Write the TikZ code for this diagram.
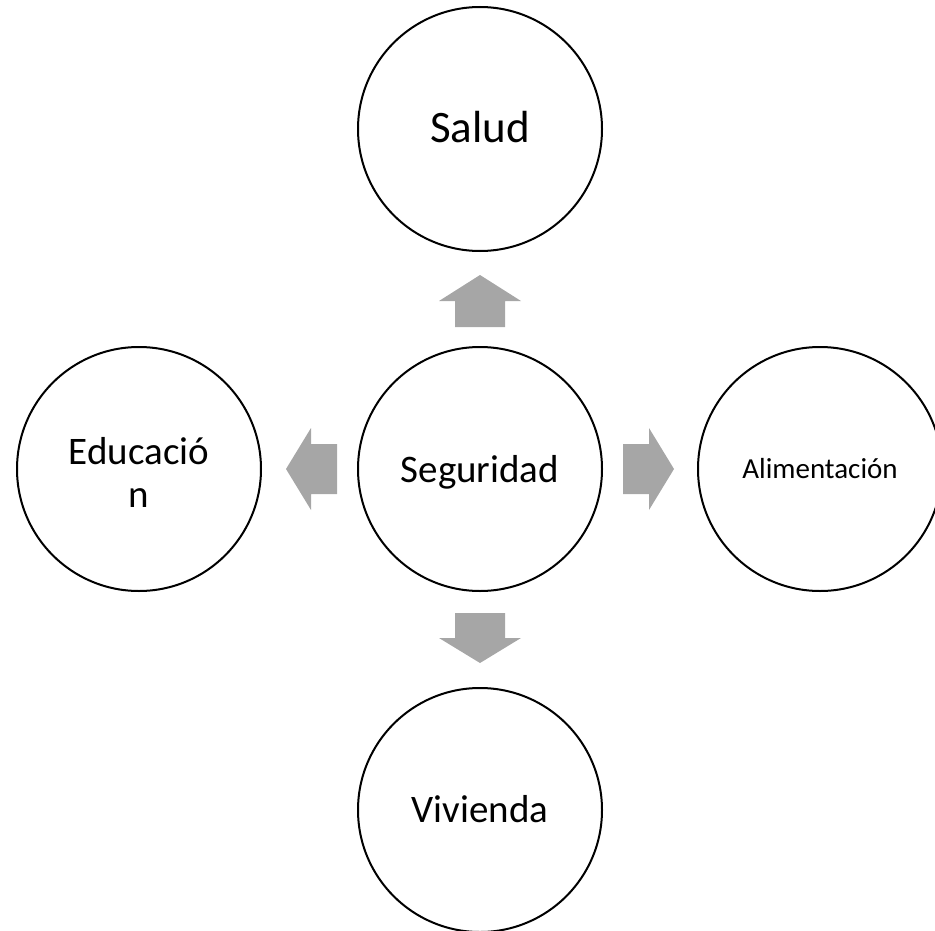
\documentclass[tikz,border=0pt]{standalone}
\usepackage{fontspec}
\setmainfont{Carlito}
\definecolor{arrowgray}{HTML}{A6A6A6}
\begin{document}
\begin{tikzpicture}[x=1pt,y=-1pt,
  circ/.style={circle, draw=black, line width=2pt, minimum size=244pt, inner sep=0pt},
  blk/.style={fill=arrowgray, draw=none},
  lbl/.style={anchor=base, inner sep=0pt, font=\fontsize{#1pt}{#1pt}\selectfont}]
\useasboundingbox (0,0) rectangle (935,931);
% circles
\node[circ] (salud) at (480,129) {};
\node[circ] (seg) at (480,469) {};
\node[circ] (edu) at (139,469) {};
\node[circ] (ali) at (820,469) {};
\node[circ] (viv) at (480,810) {};
% labels
\node[lbl=45] (tsalud) at ([yshift=-14pt]salud.center) {Salud};
\node[lbl=39] (tseg) at ([yshift=-13pt]seg.center) {Seguridad};
\node[lbl=39] (tviv) at ([yshift=-12pt]viv.center) {Vivienda};
\node[lbl=29] (tali) at ([yshift=-9pt]ali.center) {Alimentación};
\node[lbl=39] (tedu1) at ([yshift=5pt]edu.center) {Educació};
\node[lbl=39] (tedu2) at ([yshift=-38pt]edu.center) {n};
% block arrows
\fill[blk] (455,327) -- (455,301) -- (439,301) -- (480,275) -- (521,301) -- (505,301) -- (505,327) -- cycle;
\fill[blk] (455,613) -- (505,613) -- (505,638) -- (521,638) -- (480,663) -- (439,638) -- (455,638) -- cycle;
\fill[blk] (337,444) -- (311,444) -- (311,428) -- (286,469) -- (311,510) -- (311,494) -- (337,494) -- cycle;
\fill[blk] (623,444) -- (649,444) -- (649,428) -- (674,469) -- (649,510) -- (649,494) -- (623,494) -- cycle;
\end{tikzpicture}
\end{document}
